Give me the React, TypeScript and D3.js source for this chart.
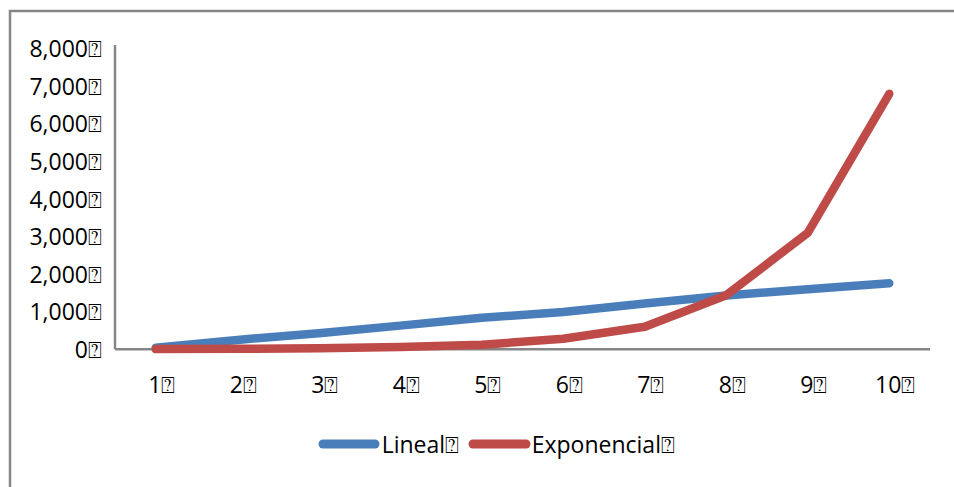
import React, { useEffect, useRef } from "react";
import * as d3 from "d3";

const categories = ["1", "2", "3", "4", "5", "6", "7", "8", "9", "10"];
const linealValues = [40, 250, 430, 630, 840, 990, 1220, 1430, 1600, 1760];
const exponencialValues = [5, 12, 27, 60, 120, 280, 600, 1440, 3100, 6800];
const yTicks = [0, 1000, 2000, 3000, 4000, 5000, 6000, 7000, 8000];
const seriesNames = ["Lineal", "Exponencial"];
const seriesColors = ["#4A7EBB", "#BE4B48"];

const W = 954;
const H = 487;
const MARK = "\u2370";
const FONT = "'Open Sans', 'Liberation Sans', sans-serif";
const FONT_SIZE = 23;

export default function App() {
  const ref = useRef<SVGSVGElement>(null);

  useEffect(() => {
    const svg = d3.select(ref.current);
    svg.selectAll("*").remove();

    // outer frame
    svg.append("rect")
      .attr("x", 10).attr("y", 11)
      .attr("width", 980).attr("height", 520)
      .attr("fill", "none").attr("stroke", "#868686").attr("stroke-width", 2.5);

    const x = d3.scaleBand<string>().domain(categories).range([115, 930]);
    const y = d3.scaleLinear().domain([0, 8000]).range([349.3, 48.7]);

    // y tick labels
    svg.append("g")
      .selectAll("text")
      .data(yTicks)
      .join("text")
      .attr("x", 102)
      .attr("y", (d) => y(d) + 8.5)
      .attr("text-anchor", "end")
      .attr("font-family", FONT)
      .attr("font-size", FONT_SIZE)
      .attr("fill", "#000")
      .text((d) => d3.format(",")(d) + MARK);

    // x tick labels
    svg.append("g")
      .selectAll("text")
      .data(categories)
      .join("text")
      .attr("x", (d) => (x(d) as number) + x.bandwidth() / 2 + 6)
      .attr("y", 393)
      .attr("text-anchor", "middle")
      .attr("font-family", FONT)
      .attr("font-size", FONT_SIZE)
      .attr("fill", "#000")
      .text((d) => d + MARK);

    // axes
    svg.append("line")
      .attr("x1", 115).attr("x2", 115)
      .attr("y1", 45).attr("y2", y(0))
      .attr("stroke", "#868686").attr("stroke-width", 2.5);
    svg.append("line")
      .attr("x1", 115).attr("x2", 930)
      .attr("y1", y(0)).attr("y2", y(0))
      .attr("stroke", "#868686").attr("stroke-width", 2.5);

    const line = d3.line<number>()
      .x((_, i) => (x(categories[i]) as number) + x.bandwidth() / 2)
      .y((d) => y(d));

    [linealValues, exponencialValues].forEach((vals, i) => {
      svg.append("path")
        .datum(vals)
        .attr("d", line)
        .attr("fill", "none")
        .attr("stroke", seriesColors[i])
        .attr("stroke-width", 8.5)
        .attr("stroke-linecap", "round")
        .attr("stroke-linejoin", "round");
    });

    // legend
    const legendItems = [
      { x1: 323, x2: 375, tx: 381.7 },
      { x1: 473, x2: 526, tx: 531.7 },
    ];
    legendItems.forEach((it, i) => {
      svg.append("line")
        .attr("x1", it.x1).attr("x2", it.x2)
        .attr("y1", 444).attr("y2", 444)
        .attr("stroke", seriesColors[i])
        .attr("stroke-width", 9)
        .attr("stroke-linecap", "round");
      svg.append("text")
        .attr("x", it.tx).attr("y", 453)
        .attr("font-family", FONT)
        .attr("font-size", FONT_SIZE)
        .attr("fill", "#000")
        .text(seriesNames[i] + MARK);
    });
  }, []);

  return (
    <svg
      ref={ref}
      width={W}
      height={H}
      style={{ position: "fixed", left: 0, top: 0, background: "#fff" }}
    />
  );
}
